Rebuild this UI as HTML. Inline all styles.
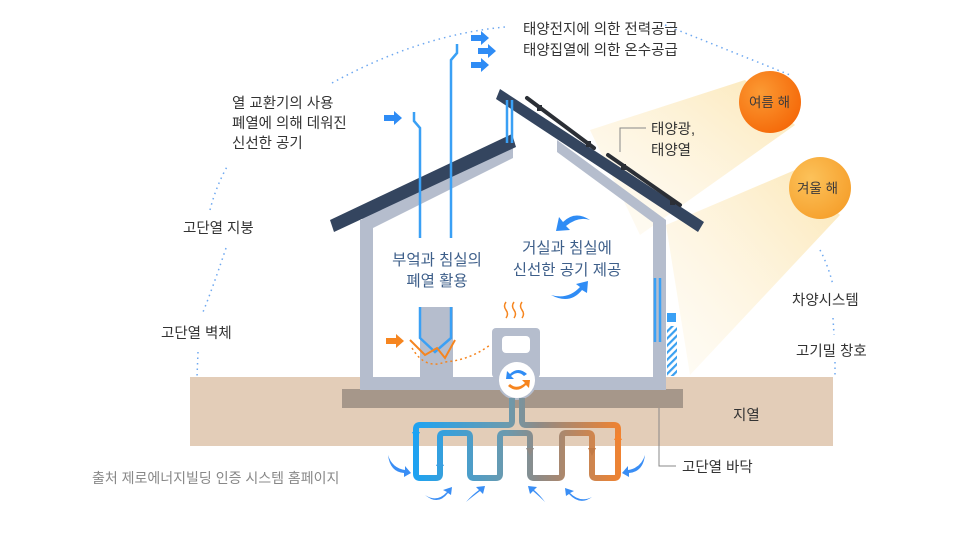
<!DOCTYPE html>
<html><head><meta charset="utf-8"><style>
html,body{margin:0;padding:0;background:#fff;width:960px;height:535px;overflow:hidden}
svg text{font-family:"Liberation Sans","Noto Sans CJK KR",sans-serif}
</style></head><body>
<svg width="960" height="535" viewBox="0 0 960 535" xmlns="http://www.w3.org/2000/svg">
<defs>
<linearGradient id="pipe" x1="410" x2="625" y1="0" y2="0" gradientUnits="userSpaceOnUse">
<stop offset="0" stop-color="#1aa3f5"/><stop offset="0.45" stop-color="#6b9aae"/><stop offset="0.6" stop-color="#8f8a86"/><stop offset="1" stop-color="#f5822c"/></linearGradient>
<radialGradient id="sumS" cx="0.35" cy="0.35" r="0.7"><stop offset="0" stop-color="#fb9a33"/><stop offset="1" stop-color="#f56a0a"/></radialGradient>
<radialGradient id="winS" cx="0.35" cy="0.35" r="0.7"><stop offset="0" stop-color="#fcc25a"/><stop offset="1" stop-color="#f6a12e"/></radialGradient>
<linearGradient id="beam" x1="1" y1="0" x2="0" y2="1"><stop offset="0" stop-color="#fbe0a0" stop-opacity="0.9"/><stop offset="1" stop-color="#fdf3dc" stop-opacity="0.3"/></linearGradient>
<pattern id="hatch" width="5" height="5" patternUnits="userSpaceOnUse" patternTransform="rotate(45)"><rect width="2.2" height="5" fill="#3aa0f0"/></pattern>
</defs>

<!-- dotted arc -->
<g fill="none" stroke="#6ea8f0" stroke-width="1.5" stroke-dasharray="1.5 4">
<path d="M332,83 Q420,35 505,27"/>
<path d="M665,25 Q740,55 790,75"/>
<path d="M226,248 Q212,290 203,312"/>
<path d="M210,210 Q216,186 228,165"/>
<path d="M198,352 L197,377"/>
<path d="M820,250 Q828,265 833,285"/>
<path d="M833,318 L834,335"/>
<path d="M835,362 L835,377"/>
</g>

<!-- sun beams -->
<polygon points="745,80 795,125 640,235 590,130" fill="url(#beam)" opacity="0.85"/>
<polygon points="795,170 840,215 690,375 666,225" fill="url(#beam)" opacity="0.85"/>

<!-- ground -->
<rect x="190" y="377" width="643" height="69" fill="#e3cdb8"/>
<rect x="342" y="389" width="341" height="19" fill="#a6978a"/>

<!-- house walls -->
<g fill="#b5bdcd">
<rect x="360" y="220" width="13" height="170"/>
<rect x="653" y="222" width="13" height="168"/>
<rect x="360" y="377" width="306" height="13"/>
<polygon points="360,218 513,145 513,158 373,228"/>
<polygon points="557,140 666,220 666,232 557,152"/>
<rect x="420" y="307" width="33" height="72"/>
<rect x="492" y="328" width="48" height="50" rx="4"/>
</g>
<rect x="502" y="336" width="28" height="17" rx="4" fill="#fff"/>
<!-- roofs -->
<polygon points="330,220 512,134 516,147 334,232" fill="#34455f"/>
<polygon points="500,89 704,222 698,232 496,99" fill="#34455f"/>
<!-- solar panels -->
<g stroke="#2b2f36" stroke-width="4" stroke-linecap="round" fill="none">
<path d="M527,98 L594,148"/><path d="M608,155 L680,205"/>
</g>
<g fill="#2b2f36"><rect x="537" y="105" width="5" height="6"/><rect x="586" y="141" width="5" height="6"/><rect x="621" y="164" width="5" height="6"/><rect x="670" y="199" width="5" height="6"/></g>

<!-- blue pipes -->
<g stroke="#3aa0f5" stroke-width="2.5" fill="none">
<path d="M420,238 L420,128 L414,121 L414,112"/>
<path d="M451,238 L451,60 L457,53 L457,44"/>
<path d="M420,307 L420,338 L435,352 L451,338 L451,307"/>
<path d="M507,100 L507,143 M512,100 L512,143"/>
<path d="M655,278 L655,342 M660,278 L660,342"/>
</g>
<rect x="667" y="313" width="9" height="9" fill="#3aa0f5"/>
<rect x="667" y="326" width="10" height="50" fill="url(#hatch)"/>
<!-- blue arrows -->
<g fill="#2f8cf5">
<path d="M384,115 h10 v-4 l8,7 -8,7 v-4 h-10z"/>
<path d="M471,35 h10 v-4 l8,7 -8,7 v-4 h-10z"/>
<path d="M478,48 h10 v-4 l8,7 -8,7 v-4 h-10z"/>
<path d="M471,62 h10 v-4 l8,7 -8,7 v-4 h-10z"/>
</g>
<!-- orange -->
<path d="M386,338 h10 v-4 l8,7 -8,7 v-4 h-10z" fill="#f6851f"/>
<path d="M410,340 L425,355 L437,348 L445,358 L455,340" fill="none" stroke="#f6851f" stroke-width="2"/>
<path d="M412,348 Q425,370 445,362 Q470,360 490,345" fill="none" stroke="#f6851f" stroke-width="1.5" stroke-dasharray="2 3"/>
<g stroke="#f6851f" stroke-width="1.5" fill="none"><path d="M506,318 q3,-4 0,-8 q-3,-4 0,-8"/><path d="M514,318 q3,-4 0,-8 q-3,-4 0,-8"/><path d="M522,318 q3,-4 0,-8 q-3,-4 0,-8"/></g>
<!-- curved arrows inside -->
<path d="M590,220 Q575,210 563,222 l-4,-5 -3,14 14,-1 -4,-4 Q578,216 590,220z" fill="#2f8cf5"/>
<path d="M551,295 Q570,305 582,290 l5,3 1,-12 -12,3 4,3 Q568,300 551,295z" fill="#2f8cf5"/>

<!-- circle -->
<circle cx="517" cy="380" r="19" fill="#fff" stroke="#b5bdcd" stroke-width="2"/>
<path d="M527,374 Q518,366 510,374 l-3,-3 -1,8 8,0 -3,-3 Q518,370 524,376z" fill="#2f8cf5"/>
<path d="M508,386 Q517,394 526,385 l3,3 1,-8 -8,0 3,3 Q517,390 510,384z" fill="#f6851f"/>

<!-- underground pipe -->
<path d="M512,398 V421 Q512,425 508,425 H420 Q416,425 416,429 V474 Q416,478 420,478 H436 Q440,478 440,474 V437 Q440,433 444,433 H466 Q470,433 470,437 V474 Q470,478 474,478 H496 Q500,478 500,474 V437 Q500,433 504,433 H526 Q530,433 530,437 V474 Q530,478 534,478 H558 Q562,478 562,474 V437 Q562,433 566,433 H588 Q592,433 592,437 V474 Q592,478 596,478 H614 Q618,478 618,474 V429 Q618,425 614,425 H526 Q522,425 522,421 V398" fill="none" stroke="url(#pipe)" stroke-width="6"/>
<g><path d="M412,432 l4,8 4,-8z" fill="#1aa3f5"/><path d="M436,466 l4,-8 4,8z" fill="#3a9ee0"/><path d="M526,448 l4,8 4,-8z" fill="#8f8a86"/><path d="M588,448 l4,8 4,-8z" fill="#c27a45"/><path d="M614,440 l4,-8 4,8z" fill="#f5822c"/></g>
<!-- small blue curved arrows -->
<g fill="#3a8ef5">
<path d="M388,455 Q392,468 405,470 l0,-4 6,7 -7,4 0,-4 Q390,472 388,455z"/>
<path d="M425,495 Q437,503 447,492 l-4,-2 9,-3 -1,8 -3,-2 Q438,506 425,495z"/>
<path d="M466,502 Q472,495 479,490 l-3,-3 9,-1 -2,8 -3,-3 Q472,497 466,502z"/>
<path d="M545,502 Q540,495 534,490 l3,-3 -9,-1 2,8 3,-3 Q540,497 545,502z"/>
<path d="M592,497 Q580,503 570,493 l4,-2 -9,-3 1,8 3,-2 Q580,506 592,497z"/>
<path d="M645,455 Q641,468 628,470 l0,-4 -6,7 7,4 0,-4 Q643,472 645,455z"/>
</g>

<!-- suns -->
<circle cx="770" cy="102" r="31" fill="url(#sumS)"/>
<circle cx="820" cy="188" r="31" fill="url(#winS)"/>

<!-- leader lines -->
<path d="M646,128 H620 V152" fill="none" stroke="#888" stroke-width="1"/>
<path d="M659,408 V466 H676" fill="none" stroke="#888" stroke-width="1"/>

<!-- texts -->
<g font-size="14.5" fill="#333">
<text x="523" y="34">태양전지에 의한 전력공급</text>
<text x="523" y="55">태양집열에 의한 온수공급</text>
<text x="232" y="108">열 교환기의 사용</text>
<text x="232" y="128">폐열에 의해 데워진</text>
<text x="232" y="148">신선한 공기</text>
<text x="183" y="233">고단열 지붕</text>
<text x="161" y="338">고단열 벽체</text>
<text x="651" y="134">태양광,</text>
<text x="651" y="155">태양열</text>
<text x="792" y="305">차양시스템</text>
<text x="796" y="356">고기밀 창호</text>
<text x="733" y="420">지열</text>
<text x="682" y="472">고단열 바닥</text>
</g>
<g font-size="13.5" fill="#3d3a3a"><text x="749" y="107">여름 해</text><text x="797" y="193">겨울 해</text></g>
<g font-size="15.5" fill="#3e5f8a" text-anchor="middle">
<text x="437" y="265">부엌과 침실의</text>
<text x="437" y="286">폐열 활용</text>
<text x="567" y="253">거실과 침실에</text>
<text x="567" y="275">신선한 공기 제공</text>
</g>
<text x="92" y="483" font-size="14" fill="#888">출처 제로에너지빌딩 인증 시스템 홈페이지</text>
</svg>
</body></html>
